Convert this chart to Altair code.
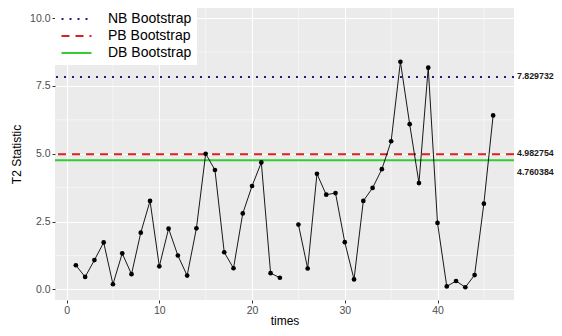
import altair as alt
import pandas as pd

times = list(range(1, 47))
t2 = [0.89, 0.46, 1.08, 1.73, 0.19, 1.33, 0.56, 2.09, 3.26, 0.85,
      2.24, 1.25, 0.51, 2.25, 5.00, 4.40, 1.37, 0.78, 2.80, 3.81,
      4.68, 0.60, 0.43, None, 2.39, 0.77, 4.26, 3.49, 3.55, 1.74,
      0.37, 3.26, 3.74, 4.43, 5.46, 8.39, 6.09, 3.92, 8.17, 2.45,
      0.11, 0.31, 0.08, 0.53, 3.16, 6.41]

ref_names = ["NB Bootstrap", "PB Bootstrap", "DB Bootstrap"]
ref_values = [7.829732, 4.982754, 4.760384]
ref_labels = ["7.829732", "4.982754", "4.760384"]
ref_colors = ["#1c1c8c", "#dd2020", "#33cc33"]
ref_dashes = [[2, 6], [8, 6], [1, 0]]

minor_x = [5, 15, 25, 35, 45]
minor_y = [1.25, 3.75, 6.25, 8.75]

# segment id so the path breaks where the value is missing
seg = []
s = 0
for v in t2:
    if v is None:
        s += 1
    seg.append(s)
df = pd.DataFrame({"times": times, "t2": t2, "seg": seg}).dropna()
ref = pd.DataFrame({"name": ref_names, "value": ref_values, "label": ref_labels})

xs = alt.Scale(domain=[-1.25, 48.25], nice=False, zero=False)
ys = alt.Scale(domain=[-0.39, 10.37], nice=False, zero=False)

minx = alt.Chart(pd.DataFrame({"x": minor_x})).mark_rule(color="white", strokeWidth=0.5).encode(
    x=alt.X("x:Q", scale=xs))
miny = alt.Chart(pd.DataFrame({"y": minor_y})).mark_rule(color="white", strokeWidth=0.5).encode(
    y=alt.Y("y:Q", scale=ys))

rules = alt.Chart(ref).mark_rule(strokeWidth=2).encode(
    y=alt.Y("value:Q", scale=ys),
    color=alt.Color("name:N", sort=ref_names,
                    scale=alt.Scale(domain=ref_names, range=ref_colors),
                    legend=alt.Legend(title=None, orient="none", legendX=0, legendY=-3,
                                      symbolType="M-1,0H3", symbolSize=225,
                                      symbolFillColor="transparent",
                                      symbolStrokeWidth=2.2, labelFontSize=14,
                                      labelColor="#000000", labelFont="Liberation Sans",
                                      fillColor="white", padding=5, rowPadding=1,
                                      labelOffset=30)),
    strokeDash=alt.StrokeDash("name:N", sort=ref_names,
                              scale=alt.Scale(domain=ref_names, range=ref_dashes),
                              legend=alt.Legend(title=None)),
)

line = alt.Chart(df).mark_line(color="black", strokeWidth=0.9).encode(
    x=alt.X("times:Q", scale=xs,
            axis=alt.Axis(title="times", values=[0, 10, 20, 30, 40], format="d")),
    y=alt.Y("t2:Q", scale=ys,
            axis=alt.Axis(title="T2 Statistic", values=[0, 2.5, 5, 7.5, 10], format=".1f")),
    detail="seg:N",
)
pts = alt.Chart(df).mark_circle(color="black", size=22, opacity=1).encode(
    x=alt.X("times:Q", scale=xs), y=alt.Y("t2:Q", scale=ys))

def lab(i, dy):
    return alt.Chart(ref).transform_filter(alt.datum.name == ref_names[i]).mark_text(
        align="left", baseline="middle", fontWeight="bold", fontSize=8.8,
        font="Liberation Sans", color="#1a1a1a", dy=dy).encode(
        x=alt.value(462), y=alt.Y("value:Q", scale=ys), text="label:N")

chart = alt.layer(minx, miny, rules, line, pts, lab(0, -1), lab(1, -1), lab(2, 12)).properties(
    width=459, height=292,
    autosize=alt.AutoSizeParams(type="none"),
    padding={"left": 47, "top": 0, "right": 40, "bottom": 28},
).configure_view(fill="#ebebeb", stroke=None).configure_axis(
    grid=True, gridColor="white", gridWidth=1, domain=False,
    tickColor="#333333", tickSize=3, labelColor="#4d4d4d", labelFontSize=10.5,
    labelFont="Liberation Sans", titleFont="Liberation Sans", titleFontSize=12,
    titleFontWeight="normal", titleColor="#000000", labelPadding=2,
).configure_axisX(titlePadding=0).configure_axisY(titlePadding=6)

chart.save("out.html", embed_options={"renderer": "svg", "actions": False})
